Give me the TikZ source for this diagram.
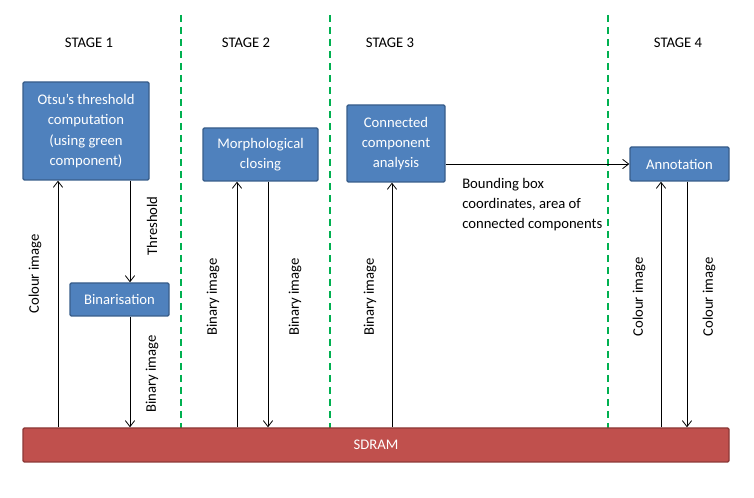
\documentclass[tikz,border=0pt]{standalone}
\usepackage{fontspec}
\setmainfont{Carlito}
\usetikzlibrary{calc, positioning, arrows.meta}
\definecolor{boxblue}{HTML}{4F81BD}
\definecolor{boxline}{HTML}{385D8A}
\definecolor{ramred}{HTML}{C0504D}
\definecolor{ramline}{HTML}{8C3836}
\definecolor{stagegreen}{HTML}{00B050}

\begin{document}
\begin{tikzpicture}
      [x=0.75pt, y=-0.75pt, text centered, font=\fontsize{11}{15.2}\selectfont,
       block/.style={draw=boxline, fill=boxblue, line width=1.1pt, rounded corners=1pt, text=white, inner sep=0pt, align=center},
       ram/.style={draw=ramline, fill=ramred, line width=1.1pt, rounded corners=1pt, text=white, inner sep=0pt},
       stageline/.style={draw=stagegreen, dash pattern=on 5.5pt off 3.5pt, line width=1.5pt},
       flow/.style={-{Straight Barb[length=4.5pt, width=7pt]}, line width=0.6pt},
       vlabel/.style={rotate=90}]

      \useasboundingbox (0,0) rectangle (754,498);

      % stages
      \node (s1) at (89,43) {STAGE 1};
      \node (s2) at (246,43) {STAGE 2};
      \node (s3) at (390,43) {STAGE 3};
      \node (s4) at (678,43) {STAGE 4};
      \draw[stageline] (181,15) -- (181,428);
      \draw[stageline] (330,15) -- (330,428);
      \draw[stageline] (608,15) -- (608,428);

      %nodes
      \node[block, minimum width=94.5pt, minimum height=73.5pt] (otsu) at (86,131) {Otsu’s threshold\\computation\\(using green\\component)};
      \node[block, minimum width=74.25pt, minimum height=24.75pt] (bin) at (119.5,299.5) {Binarisation};
      \node[block, minimum width=86.25pt, minimum height=39.75pt] (morph) at (260.5,154.5) {Morphological\\closing};
      \node[block, minimum width=73.5pt, minimum height=57.75pt] (cca) at (396,143.5) {Connected\\component\\analysis};
      \node[block, minimum width=74.25pt, minimum height=25.5pt] (annot) at (679.5,164) {Annotation};
      \node[ram, minimum width=529.5pt, minimum height=25.5pt] (sdram) at (376,445) {SDRAM};

      % arrow columns
      \coordinate (c1) at (58,0);
      \coordinate (c2) at (130,0);
      \coordinate (c3) at (237,0);
      \coordinate (c4) at (268,0);
      \coordinate (c5) at (392,0);
      \coordinate (c6) at (661,0);
      \coordinate (c7) at (687,0);

      % edges %
      \draw[flow] (sdram.north -| c1) -- (otsu.south -| c1);
      \draw[flow] (otsu.south -| c2) -- (bin.north -| c2);
      \draw[flow] (bin.south -| c2) -- (sdram.north -| c2);
      \draw[flow] (sdram.north -| c3) -- (morph.south -| c3);
      \draw[flow] (morph.south -| c4) -- (sdram.north -| c4);
      \draw[flow] (sdram.north -| c5) -- (cca.south -| c5);
      \draw[flow] (cca.east |- annot.west) -- (annot.west);
      \draw[flow] (sdram.north -| c6) -- (annot.south -| c6);
      \draw[flow] (annot.south -| c7) -- (sdram.north -| c7);

      % labels
      \node[vlabel] (l1) at (35,274) {Colour image};
      \node[vlabel] (l2) at (152,226) {Threshold};
      \node[vlabel] (l3) at (152,374) {Binary image};
      \node[vlabel] (l4) at (213,297) {Binary image};
      \node[vlabel] (l5) at (295,297) {Binary image};
      \node[vlabel] (l6) at (370,297) {Binary image};
      \node[vlabel] (l7) at (639,297) {Colour image};
      \node[vlabel] (l8) at (709,297) {Colour image};
      \node[anchor=north west, align=left, inner sep=0pt] (bbox) at (462,178) {Bounding box\\coordinates, area of\\connected components};
    \end{tikzpicture}
\end{document}
